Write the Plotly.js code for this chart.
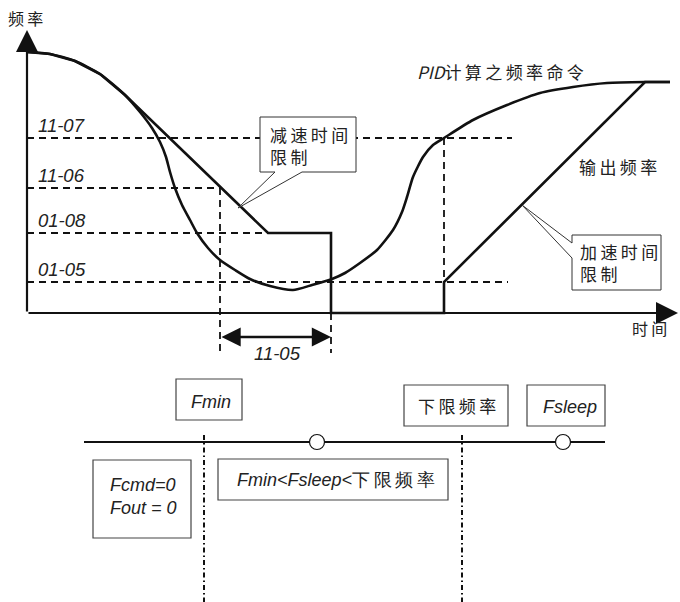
<!DOCTYPE html>
<html>
<head>
<meta charset="utf-8">
<script src="https://cdn.plot.ly/plotly-3.0.1.min.js"></script>
<style>body{margin:0;background:#fff}#chart{width:680px;height:602px}</style>
</head>
<body>
<div id="chart"></div>
<script>
//// Values (t = time, f = frequency, origin where the two axes cross)
// PID frequency command
var pidT = [0, 23, 48, 73, 98, 113, 125, 133, 139, 143, 148, 155, 163, 170, 181, 193, 208, 223, 243, 266,
    285, 305, 318, 333, 350, 366, 375, 380, 386, 396, 406, 417, 446, 480, 513, 546, 580, 618, 643];
var pidF = [261, 259, 252, 239, 218, 201, 185, 171, 156, 141, 125, 108, 93, 80, 65, 53, 43, 34, 27, 23,
    28, 34, 40, 50, 63, 83, 101, 116, 136, 156, 168, 175, 193, 208, 220, 226, 230, 231, 231];
// Output frequency
var outT = [0, 23, 48, 73, 98, 241, 304, 304, 417, 417, 618, 643];
var outF = [261, 259, 252, 239, 218, 80, 80, 0, 0, 31, 231, 231];
// Parameter levels
var levelNames = ["11-07", "11-06", "01-08", "01-05"];
var levelF = [175, 125, 80, 31];
var levelEnd = [485, 193, 241, 481];
// Vertical guides [t, f from, f to]
var guideT = [193, 304, 417];
var guideFrom = [125, 0, 175];
var guideTo = [-40, -40, 31];
// Bottom frequency scale
var scaleT = [57, 578];
var scaleF = -129;
var sleepT = [290, 536];
var limitT = [177, 435];

var cjk = '"Noto Sans CJK SC", sans-serif';
var lat = '"Liberation Sans", Arial, sans-serif';

// wide CJK lettering like the original drawing
function sp(s) {
    return s.split('').join('\u2009');
}

var traces = [];
// Dashed levels
for (var i = 0; i < levelF.length; i++) {
    traces.push({
        x: [0, levelEnd[i]],
        y: [levelF[i], levelF[i]],
        type: 'scatter',
        mode: 'lines',
        line: {color: '#111', width: 1.8, dash: '7px,5px'},
        hoverinfo: 'skip'
    });
}
for (var i = 0; i < guideT.length; i++) {
    traces.push({
        x: [guideT[i], guideT[i]],
        y: [guideFrom[i], guideTo[i]],
        type: 'scatter',
        mode: 'lines',
        line: {color: '#111', width: 1.8, dash: '7px,5px'},
        hoverinfo: 'skip'
    });
}
// Curves
traces.push({
    x: pidT, y: pidF, type: 'scatter', mode: 'lines',
    line: {color: '#111', width: 2.6, shape: 'spline', smoothing: 0.6}
});
traces.push({
    x: outT, y: outF, type: 'scatter', mode: 'lines',
    line: {color: '#111', width: 2.6}
});
// Bottom scale line and limits
traces.push({
    x: scaleT, y: [scaleF, scaleF], type: 'scatter', mode: 'lines',
    line: {color: '#111', width: 2}
});
for (var i = 0; i < limitT.length; i++) {
    traces.push({
        x: [limitT[i], limitT[i]], y: [scaleF + 7, -289], type: 'scatter', mode: 'lines',
        line: {color: '#111', width: 2, dash: '5px,3px,1.5px,3px'}
    });
}
traces.push({
    x: sleepT, y: [scaleF, scaleF], type: 'scatter', mode: 'markers',
    marker: {symbol: 'circle', size: 15, color: '#fff', line: {color: '#111', width: 1.2}}
});

var shapes = [];
var annotations = [];
// Callouts
shapes.push({
    type: 'path', xref: 'x', yref: 'y',
    path: 'M233,196 L329,196 L329,141 L275,141 L211,105 L248,141 L233,141 Z',
    fillcolor: '#fff', line: {color: '#333', width: 1}
});
shapes.push({
    type: 'path', xref: 'x', yref: 'y',
    path: 'M545,78 L634,78 L634,23 L545,23 L545,55 L495,108 L545,70 Z',
    fillcolor: '#fff', line: {color: '#333', width: 1}
});
// Boxes of the bottom scale
var boxes = [[149, -66, 215, -107], [377, -72, 481, -113], [500, -72, 578, -113],
    [66, -147, 164, -225], [191, -146, 421, -187]];
boxes.forEach(function (b) {
    shapes.push({
        type: 'rect', xref: 'x', yref: 'y', x0: b[0], y0: b[1], x1: b[2], y1: b[3],
        fillcolor: '#fff', line: {color: '#444', width: 1.2}
    });
});

function txt(x, y, text, font, size, anchor) {
    annotations.push({
        x: x, y: y, xref: 'x', yref: 'y', text: text, showarrow: false,
        xanchor: anchor || 'left', yanchor: 'middle', align: 'left',
        font: {family: font, size: size, color: '#222'}
    });
}
// Axes with arrows
annotations.push({x: 0, y: 283, ax: 0, ay: 0, axref: 'x', ayref: 'y', text: '',
    showarrow: true, arrowhead: 2, arrowsize: 2, arrowwidth: 2.2, arrowcolor: '#111'});
annotations.push({x: 651, y: 0, ax: 0, ay: 0, axref: 'x', ayref: 'y', text: '',
    showarrow: true, arrowhead: 2, arrowsize: 2, arrowwidth: 2.2, arrowcolor: '#111'});
// 11-05 span
annotations.push({x: 304, y: -24, ax: 193, ay: -24, axref: 'x', ayref: 'y', text: '',
    showarrow: true, arrowhead: 2, arrowside: 'end+start', arrowsize: 1.6, arrowwidth: 2.4,
    arrowcolor: '#111'});

txt(-2, 295, sp('频率'), cjk, 16, 'center');
txt(622, -15, sp('时间'), cjk, 16, 'center');
for (var i = 0; i < levelNames.length; i++) {
    txt(9, levelF[i] + 13, '<i>' + levelNames[i] + '</i>', lat, 18.5);
}
txt(250, -40, '<i>11-05</i>', lat, 18.5, 'center');
txt(388, 242, '<i>PID</i>' + sp('计算之频率命令'), cjk, 17);
txt(550, 147, sp('输出频率'), cjk, 17);
txt(241, 168, sp('减速时间') + '<br>' + sp('限制'), cjk, 17);
txt(551, 51, sp('加速时间') + '<br>' + sp('限制'), cjk, 17);
txt(184, -89, '<i>Fmin</i>', lat, 18, 'center');
txt(430, -92, sp('下限频率'), cjk, 17, 'center');
txt(543, -94, '<i>Fsleep</i>', lat, 18, 'center');
txt(116, -172, '<i>Fcmd=0</i>', lat, 18, 'center');
txt(116, -195, '<i>Fout = 0</i>', lat, 18, 'center');
txt(309, -167, '<i>Fmin&lt;Fsleep&lt;</i>' + sp('下限频率'), lat, 18, 'center');

var layout = {
    width: 680, height: 602,
    margin: {l: 0, r: 0, t: 0, b: 0},
    paper_bgcolor: '#fff', plot_bgcolor: '#fff',
    showlegend: false,
    xaxis: {range: [-27, 653], visible: false, fixedrange: true},
    yaxis: {range: [-289, 313], visible: false, fixedrange: true},
    shapes: shapes,
    annotations: annotations
};

Plotly.newPlot('chart', traces, layout, {displayModeBar: false, staticPlot: true});
</script>
</body>
</html>
